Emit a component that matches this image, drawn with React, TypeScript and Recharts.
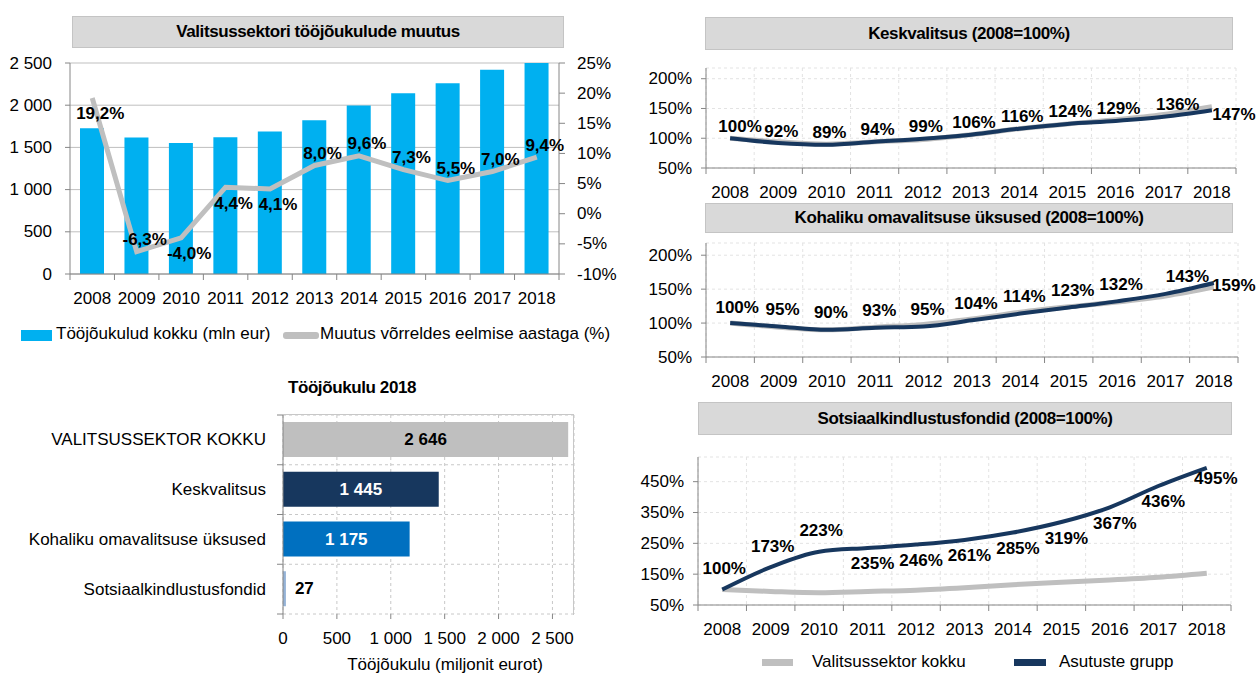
import React from 'react';
import {
  ComposedChart,
  BarChart,
  LineChart,
  Bar,
  Line,
  XAxis,
  YAxis,
  CartesianGrid,
  LabelList,
  Cell,
} from 'recharts';

// --- data ---
const years = ['2008', '2009', '2010', '2011', '2012', '2013', '2014', '2015', '2016', '2017', '2018'];
const laborCostTotal = [1726, 1617, 1552, 1621, 1687, 1822, 1997, 2143, 2261, 2419, 2646];
const yearlyChange = [19.2, -6.3, -4.0, 4.4, 4.1, 8.0, 9.6, 7.3, 5.5, 7.0, 9.4];
const leftTicks = [0, 500, 1000, 1500, 2000, 2500];
const rightTicks = [-10, -5, 0, 5, 10, 15, 20, 25];

const sectors2018 = ['VALITSUSSEKTOR KOKKU', 'Keskvalitsus', 'Kohaliku omavalitsuse üksused', 'Sotsiaalkindlustusfondid'];
const cost2018 = [2646, 1445, 1175, 27];
const costTicks = [0, 500, 1000, 1500, 2000, 2500];

const totalIndex = [100, 94, 90, 94, 98, 106, 116, 124, 131, 140, 153];
const centralIndex = [100, 92, 89, 94, 99, 106, 116, 124, 129, 136, 147];
const localIndex = [100, 95, 90, 93, 95, 104, 114, 123, 132, 143, 159];
const socialIndex = [100, 173, 223, 235, 246, 261, 285, 319, 367, 436, 495];
const smallIndexTicks = [50, 100, 150, 200];
const socialTicks = [50, 150, 250, 350, 450];

// --- styles ---
const FONT = "'Liberation Sans', Arial, sans-serif";
const AXIS = '#868686';
const NAVY = '#17375E';
const GREY_LINE = '#BFBFBF';
const costColors = ['#BFBFBF', '#17375E', '#0070C0', '#95B3D7'];
const costLabelColors = ['#000', '#fff', '#fff', '#000'];
const growthBelow = [true, false, true, true, true, false, false, false, false, false, false];

const fmtThousands = (v: number) => String(v).replace(/\B(?=(\d{3})+(?!\d))/g, ' ');
const fmtPct = (v: number) => `${v}%`;
const fmtPct1 = (v: number) => `${v.toFixed(1).replace('.', ',')}%`;

const NText = ({ x, y, anchor = 'middle', size = 17, bold = false, fill = '#000', children }: any) => (
  <text x={x} y={y} textAnchor={anchor} dominantBaseline="central"
    fontFamily={FONT} fontSize={size} fontWeight={bold ? 'bold' : 'normal'} fill={fill}>
    {children}
  </text>
);

const Label = ({ style, children }: any) => (
  <div style={{ position: 'absolute', fontFamily: FONT, fontSize: 17, color: '#000', lineHeight: '20px', whiteSpace: 'nowrap', ...style }}>
    {children}
  </div>
);

const ValueTick = (props: any) => {
  const { x, y, payload, index, textAnchor, tickFormatter, dy = 0 } = props;
  const label = tickFormatter ? tickFormatter(payload.value, index) : payload.value;
  return <NText x={x} y={y + dy} anchor={textAnchor}>{label}</NText>;
};

const BandTickX = (props: any) => {
  const { x, y, payload, index, visibleTicksCount, width } = props;
  const band = width / visibleTicksCount;
  const last = index === visibleTicksCount - 1;
  return (
    <g>
      <line x1={x - band / 2} x2={x - band / 2} y1={y} y2={y + 6} stroke={AXIS} />
      {last && <line x1={x + band / 2} x2={x + band / 2} y1={y} y2={y + 6} stroke={AXIS} />}
      <NText x={x} y={y + 24}>{payload.value}</NText>
    </g>
  );
};

const BandTickY = (props: any) => {
  const { x, y, payload, index, visibleTicksCount, height } = props;
  const band = height / visibleTicksCount;
  const last = index === visibleTicksCount - 1;
  return (
    <g>
      <line x1={x - 6} x2={x} y1={y - band / 2} y2={y - band / 2} stroke={AXIS} />
      {last && <line x1={x - 6} x2={x} y1={y + band / 2} y2={y + band / 2} stroke={AXIS} />}
      <NText x={x - 17} y={y} anchor="end">{payload.value}</NText>
    </g>
  );
};

const GrowthLabel = (props: any) => {
  const { x, y, value, index } = props;
  const below = growthBelow[index];
  return <NText x={x + 8} y={below ? y + 16 : y - 12} bold>{fmtPct1(value)}</NText>;
};

const CostLabel = (props: any) => {
  const { x, y, width, height, value, index } = props;
  const outside = index === cost2018.length - 1;
  return (
    <NText x={outside ? x + width + 9 : x + width / 2} y={y + height / 2} anchor={outside ? 'start' : 'middle'}
      bold fill={costLabelColors[index]}>
      {fmtThousands(value)}
    </NText>
  );
};

const TitleBox = ({ text, left, top, width, height }: any) => (
  <div style={{
    position: 'absolute', left, top, width, height, background: '#D9D9D9', border: '1px solid #C4C4C4',
    boxSizing: 'border-box', display: 'flex', alignItems: 'center', justifyContent: 'center',
    fontFamily: FONT, fontWeight: 'bold', fontSize: 17, letterSpacing: -0.4, color: '#000', whiteSpace: 'nowrap',
  }}>
    {text}
  </div>
);

const bandLines = (n: number) => ({ offset }: any) =>
  Array.from({ length: n + 1 }, (_, i) => offset.left + (i * offset.width) / n);
const bandLinesY = (n: number) => ({ offset }: any) =>
  Array.from({ length: n + 1 }, (_, i) => offset.top + (i * offset.height) / n);

type IndexProps = {
  values: number[];
  domain: [number, number];
  ticks: number[];
  top: number;
  height: number;
  marginTop: number;
  marginRight: number;
  yWidth: number;
  labelOffset: (i: number) => [number, number];
};

const IndexPanel = ({ values, domain, ticks, top, height, marginTop, marginRight, yWidth, labelOffset }: IndexProps) => {
  const data = years.map((year, i) => ({ year, total: totalIndex[i], group: values[i] }));
  const Lbl = (p: any) => {
    const [dx, dy] = labelOffset(p.index);
    return <NText x={p.x + dx} y={p.y + dy} bold>{`${p.value}%`}</NText>;
  };
  return (
    <div style={{ position: 'absolute', left: 630, top }}>
      <LineChart width={628} height={height} data={data} margin={{ top: marginTop, right: marginRight, bottom: 0, left: 0 }}>
        <CartesianGrid stroke="#E3E3E3" strokeDasharray="3 3" verticalCoordinatesGenerator={bandLines(years.length)} />
        <XAxis dataKey="year" scale="band" interval={0} height={35} tickSize={0} tickMargin={0} stroke={AXIS} tick={<BandTickX />} />
        <YAxis width={yWidth} domain={domain} ticks={ticks} tickSize={5} tickMargin={9} stroke={AXIS}
          tickFormatter={fmtPct} tick={<ValueTick />} />
        <Line dataKey="total" type="monotone" stroke={GREY_LINE} strokeWidth={5} dot={false} isAnimationActive={false} />
        <Line dataKey="group" type="monotone" stroke={NAVY} strokeWidth={4} dot={false} isAnimationActive={false}>
          <LabelList dataKey="group" content={<Lbl />} />
        </Line>
      </LineChart>
    </div>
  );
};

export default function App() {
  const topData = years.map((year, i) => ({ year, total: laborCostTotal[i], change: yearlyChange[i] }));
  const costData = sectors2018.map((name, i) => ({ name, value: cost2018[i] }));

  return (
    <div style={{ position: 'absolute', left: 0, top: 0, width: 1258, height: 673, background: '#fff', overflow: 'hidden' }}>
      {/* top left */}
      <TitleBox text="Valitsussektori tööjõukulude muutus" left={72} top={16} width={492} height={32} />
      <div style={{ position: 'absolute', left: 0, top: 50 }}>
        <ComposedChart width={620} height={260} data={topData} margin={{ top: 13, right: 0, bottom: 0, left: 0 }}>
          <CartesianGrid yAxisId="left" vertical={false} stroke="#BFBFBF" />
          <XAxis dataKey="year" interval={0} height={36} tickSize={0} tickMargin={0} stroke={AXIS} tick={<BandTickX />} />
          <YAxis yAxisId="left" width={70} domain={[0, 2500]} ticks={leftTicks} allowDataOverflow tickSize={5} tickMargin={13}
            stroke={AXIS} tickFormatter={fmtThousands} tick={<ValueTick />} />
          <YAxis yAxisId="right" orientation="right" width={61} domain={[-10, 25]} ticks={rightTicks} tickSize={6} tickMargin={12}
            stroke={AXIS} tickFormatter={fmtPct} tick={<ValueTick />} />
          <Bar yAxisId="left" dataKey="total" fill="#00B0F0" barSize={24} isAnimationActive={false} />
          <Line yAxisId="right" dataKey="change" type="linear" stroke={GREY_LINE} strokeWidth={5} dot={false} isAnimationActive={false}>
            <LabelList dataKey="change" content={<GrowthLabel />} />
          </Line>
        </ComposedChart>
      </div>
      <div style={{ position: 'absolute', left: 21, top: 330, width: 31, height: 11, background: '#00B0F0' }} />
      <Label style={{ left: 56, top: 324 }}>Tööjõukulud kokku (mln eur)</Label>
      <div style={{ position: 'absolute', left: 283, top: 332, width: 36, height: 7, background: GREY_LINE, borderRadius: 3 }} />
      <Label style={{ left: 320, top: 324 }}>Muutus võrreldes eelmise aastaga (%)</Label>

      {/* bottom left */}
      <Label style={{ left: 252, top: 378, width: 200, textAlign: 'center', fontWeight: 'bold', letterSpacing: -0.4 }}>
        Tööjõukulu 2018
      </Label>
      <div style={{ position: 'absolute', left: 0, top: 400 }}>
        <BarChart layout="vertical" width={600} height={260} data={costData} margin={{ top: 15, right: 26, bottom: 16, left: 0 }}>
          <CartesianGrid stroke="#C8C8C8" strokeDasharray="3 3" horizontalCoordinatesGenerator={bandLinesY(sectors2018.length)} />
          <XAxis type="number" domain={[0, 2700]} ticks={costTicks} height={30} tickSize={5} tickMargin={0} stroke={AXIS}
            axisLine={false} tickLine={{ stroke: AXIS }} tickFormatter={fmtThousands} tick={<ValueTick dy={19} />} />
          <YAxis type="category" dataKey="name" width={283} interval={0} tickSize={0} tickMargin={0} stroke={AXIS} tick={<BandTickY />} />
          <Bar dataKey="value" barSize={35} isAnimationActive={false}>
            {costData.map((d, i) => <Cell key={d.name} fill={costColors[i]} />)}
            <LabelList dataKey="value" content={<CostLabel />} />
          </Bar>
        </BarChart>
      </div>
      <div style={{ position: 'absolute', left: 283, top: 414, width: 291, height: 201, borderTop: '1px solid #C8C8C8', borderRight: '1px solid #C8C8C8', boxSizing: 'border-box' }} />
      <Label style={{ left: 345, top: 655, width: 200, textAlign: 'center' }}>Tööjõukulu (miljonit eurot)</Label>

      {/* right column */}
      <TitleBox text="Keskvalitsus (2008=100%)" left={705} top={17} width={528} height={33} />
      <IndexPanel values={centralIndex} domain={[50, 218]} ticks={smallIndexTicks} top={55} height={148} marginTop={13}
        marginRight={22} yWidth={76}
        labelOffset={(i) => (i === 10 ? [22, 4] : i === 0 ? [10, -12] : i === 9 ? [14, -12] : [3, -12])} />

      <TitleBox text="Kohaliku omavalitsuse üksused (2008=100%)" left={705} top={203} width={528} height={30} />
      <IndexPanel values={localIndex} domain={[50, 218]} ticks={smallIndexTicks} top={230} height={162} marginTop={13}
        marginRight={20} yWidth={76}
        labelOffset={(i) => (i === 10 ? [20, 2] : i === 9 ? [22, -17] : i === 0 ? [7, -16] : [4, -17])} />

      <TitleBox text="Sotsiaalkindlustusfondid (2008=100%)" left={698} top={402} width={534} height={33} />
      <IndexPanel values={socialIndex} domain={[50, 530]} ticks={socialTicks} top={440} height={200} marginTop={17}
        marginRight={27} yWidth={68}
        labelOffset={(i) => (i === 10 ? [9, 11] : i < 3 ? [2, -21] : [5, 16])} />
      <div style={{ position: 'absolute', left: 762, top: 659, width: 31, height: 7, background: GREY_LINE }} />
      <Label style={{ left: 812, top: 652 }}>Valitsussektor kokku</Label>
      <div style={{ position: 'absolute', left: 1014, top: 659, width: 32, height: 7, background: NAVY }} />
      <Label style={{ left: 1059, top: 652 }}>Asutuste grupp</Label>
    </div>
  );
}
